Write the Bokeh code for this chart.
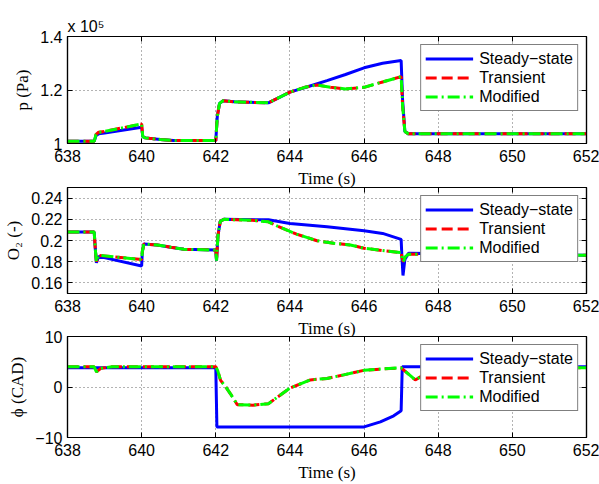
from bokeh.plotting import figure
from bokeh.models import Range1d, LinearAxis, FixedTicker, CustomJSTickFormatter, Title
from bokeh.layouts import column
from bokeh.embed import file_html
from bokeh.resources import INLINE

# ---------------- data ----------------
x_ticks = [638, 640, 642, 644, 646, 648, 650, 652]
series_names = ["Steady\u2212state", "Transient", "Modified"]

# pressure, in units of 1e5 Pa
t_p_ss = [638.0, 638.72, 638.77, 638.84, 639.0, 640.0, 640.03, 640.1, 640.5, 640.86, 642.0, 642.04, 642.1,
          642.2, 642.5, 643.42, 644.0, 644.5, 645.0, 645.5, 646.0, 646.5, 647.0, 647.04, 647.1, 647.2, 652.0]
p_ss = [1.008, 1.008, 1.030, 1.036, 1.039, 1.061, 1.026, 1.021, 1.015, 1.011, 1.011, 1.100, 1.150,
        1.160, 1.156, 1.152, 1.192, 1.213, 1.235, 1.258, 1.283, 1.300, 1.310, 1.160, 1.045, 1.036, 1.036]
t_p_tr = [638.0, 638.72, 638.77, 638.84, 639.0, 640.0, 640.03, 640.1, 640.5, 640.86, 642.0, 642.04, 642.1,
          642.2, 642.5, 643.42, 644.0, 644.4, 644.73, 645.1, 645.5, 646.0, 646.5, 647.0, 647.04, 647.1,
          647.2, 652.0]
p_tr = [1.008, 1.008, 1.034, 1.042, 1.045, 1.073, 1.026, 1.021, 1.015, 1.011, 1.011, 1.100, 1.150,
        1.160, 1.156, 1.152, 1.192, 1.210, 1.219, 1.210, 1.204, 1.210, 1.230, 1.250, 1.140, 1.045,
        1.036, 1.036]
t_p_mod = [638.0, 638.72, 638.77, 638.84, 639.0, 640.0, 640.03, 640.1, 640.5, 640.86, 642.0, 642.04, 642.1,
           642.2, 642.5, 643.42, 644.0, 644.4, 644.73, 645.1, 645.5, 646.0, 646.5, 647.0, 647.04, 647.1,
           647.2, 652.0]
p_mod = [1.008, 1.008, 1.034, 1.042, 1.045, 1.073, 1.026, 1.021, 1.015, 1.011, 1.011, 1.100, 1.150,
         1.160, 1.156, 1.152, 1.192, 1.210, 1.219, 1.210, 1.204, 1.210, 1.230, 1.250, 1.140, 1.045,
         1.036, 1.036]
p_ticks = [1.0, 1.2, 1.4]

# oxygen fraction
t_o_ss = [638.0, 638.72, 638.75, 638.78, 638.84, 640.0, 640.02, 640.06, 640.42, 640.78, 641.14, 642.0,
          642.02, 642.06, 642.12, 642.22, 643.42, 644.0, 645.0, 646.0, 646.5, 647.0, 647.02, 647.05,
          647.1, 647.2, 652.0]
o_ss = [0.208, 0.208, 0.192, 0.179, 0.185, 0.176, 0.190, 0.1967, 0.1958, 0.1937, 0.1917, 0.191,
        0.181, 0.205, 0.218, 0.220, 0.2195, 0.2161, 0.2129, 0.2092, 0.2067, 0.2011, 0.185, 0.167,
        0.182, 0.188, 0.186]
t_o_tr = [638.0, 638.72, 638.75, 638.78, 638.84, 639.0, 640.0, 640.02, 640.06, 640.42, 640.78, 641.14,
          642.0, 642.02, 642.06, 642.12, 642.22, 643.0, 643.42, 643.65, 644.18, 644.73, 645.18, 645.63,
          646.0, 646.5, 646.9, 647.0, 647.03, 647.06, 647.12, 647.2, 652.0]
o_tr = [0.208, 0.208, 0.192, 0.180, 0.186, 0.1855, 0.182, 0.190, 0.1967, 0.1958, 0.1937, 0.1917,
        0.191, 0.181, 0.205, 0.218, 0.220, 0.219, 0.2176, 0.2138, 0.206, 0.1998, 0.1974, 0.1958,
        0.1927, 0.1905, 0.189, 0.1885, 0.183, 0.180, 0.185, 0.187, 0.186]
t_o_mod = [638.0, 638.72, 638.75, 638.78, 638.84, 639.0, 640.0, 640.02, 640.06, 640.42, 640.78, 641.14,
           642.0, 642.02, 642.06, 642.12, 642.22, 643.0, 643.42, 643.65, 644.18, 644.73, 645.18, 645.63,
           646.0, 646.5, 646.9, 647.0, 647.03, 647.06, 647.12, 647.2, 652.0]
o_mod = [0.208, 0.208, 0.192, 0.180, 0.186, 0.1855, 0.182, 0.190, 0.1967, 0.1958, 0.1937, 0.1917,
         0.191, 0.181, 0.205, 0.218, 0.220, 0.219, 0.2176, 0.2138, 0.206, 0.1998, 0.1974, 0.1958,
         0.1927, 0.1905, 0.189, 0.1885, 0.183, 0.180, 0.185, 0.187, 0.186]
o_ticks = [0.16, 0.18, 0.20, 0.22, 0.24]

# combustion phasing (CAD)
t_f_ss = [638.0, 642.0, 642.03, 646.0, 646.44, 646.8, 647.0, 647.03, 652.0]
f_ss = [3.8, 3.8, -7.9, -7.9, -6.9, -5.7, -4.7, 4.0, 4.0]
t_f_tr = [638.0, 638.72, 638.78, 638.9, 639.2, 642.0, 642.05, 642.13, 642.26, 642.4, 642.58, 643.0,
          643.42, 644.0, 644.55, 645.0, 645.45, 646.0, 646.54, 647.0, 647.16, 647.38, 647.7, 648.2, 652.0]
f_tr = [4.0, 4.0, 3.0, 3.7, 4.0, 4.0, 3.3, 1.3, 0.1, -1.4, -3.5, -3.6,
        -3.3, -0.2, 1.4, 1.7, 2.4, 3.3, 3.6, 3.8, 2.8, 1.4, 2.8, 3.8, 3.8]
t_f_mod = [638.0, 638.72, 638.78, 638.9, 639.2, 642.0, 642.05, 642.13, 642.26, 642.4, 642.58, 643.0,
           643.42, 644.0, 644.55, 645.0, 645.45, 646.0, 646.54, 647.0, 647.16, 647.38, 647.7, 648.2, 652.0]
f_mod = [4.0, 4.0, 3.0, 3.7, 4.0, 4.0, 3.3, 1.3, 0.1, -1.4, -3.5, -3.6,
         -3.3, -0.2, 1.4, 1.7, 2.4, 3.3, 3.6, 3.8, 2.8, 1.4, 2.8, 3.8, 3.8]
f_ticks = [-10, 0, 10]

# ---------------- styling ----------------
SANS = "Liberation Sans"
SERIF = "Liberation Serif"
num_fmt = "var v = Math.round(tick*1000)/1000; return v.toString().replace('-', '\\u2212');"


def panel(height, b_top, b_bottom, yr, yticks, ylabel, data, margin):
    p = figure(width=599, height=height, x_range=Range1d(638, 652), y_range=Range1d(*yr),
               output_backend="svg", toolbar_location=None,
               min_border_left=67, min_border_right=13, min_border_top=b_top, min_border_bottom=b_bottom,
               border_fill_color=None, background_fill_color="white",
               outline_line_color="black", outline_line_width=1.2, margin=margin)
    for ax, ticks in ((p.xaxis[0], x_ticks), (p.yaxis[0], yticks)):
        ax.ticker = FixedTicker(ticks=ticks)
        ax.formatter = CustomJSTickFormatter(code=num_fmt)
        ax.major_tick_in = 5
        ax.major_tick_out = 0
        ax.minor_tick_line_color = None
        ax.axis_line_color = "black"
        ax.axis_line_width = 1.2
        ax.major_tick_line_color = "black"
        ax.major_label_text_font = SANS
        ax.major_label_text_font_size = "16px"
        ax.major_label_text_color = "black"
        ax.axis_label_text_font = SERIF
        ax.axis_label_text_font_size = "17px"
        ax.axis_label_text_font_style = "normal"
        ax.axis_label_text_color = "black"
    p.xaxis[0].major_label_standoff = 6
    p.xaxis[0].axis_label_standoff = 4
    p.xaxis[0].axis_label = "Time (s)"
    p.yaxis[0].major_label_standoff = 5
    p.yaxis[0].axis_label_standoff = 5
    p.yaxis[0].axis_label = ylabel
    for loc, ticks in (("right", yticks), ("above", x_ticks)):
        ax = LinearAxis(ticker=FixedTicker(ticks=ticks), formatter=CustomJSTickFormatter(code="return '';"),
                        major_tick_in=5, major_tick_out=0, minor_tick_line_color=None,
                        major_label_text_font_size="0px", major_label_standoff=0,
                        axis_line_color="black", axis_line_width=1.2, major_tick_line_color="black")
        p.add_layout(ax, loc)
    p.xgrid.ticker = FixedTicker(ticks=x_ticks)
    p.ygrid.ticker = FixedTicker(ticks=yticks)
    for g in (p.xgrid[0], p.ygrid[0]):
        g.grid_line_color = "#000000"
        g.grid_line_alpha = 0.6
        g.grid_line_dash = "1 3"
        g.grid_line_width = 1
    (t1, v1), (t2, v2), (t3, v3) = data
    p.line(t1, v1, line_color="#0000ff", line_width=3, legend_label=series_names[0])
    p.line(t2, v2, line_color="#ff0000", line_width=3, line_dash="11 5", legend_label=series_names[1])
    p.line(t3, v3, line_color="#00ff00", line_width=3, line_dash="12 4 2 4", legend_label=series_names[2])
    lg = p.legend[0]
    lg.location = "top_right"
    lg.margin = 8
    lg.padding = 4
    lg.spacing = 0
    lg.label_standoff = 6
    lg.glyph_width = 48
    lg.glyph_height = 19
    lg.label_height = 19
    lg.label_text_font = SANS
    lg.label_text_font_size = "16px"
    lg.label_text_color = "black"
    lg.border_line_color = "black"
    lg.border_line_width = 1
    lg.background_fill_color = "white"
    lg.background_fill_alpha = 1.0
    return p


p1 = panel(190, 36, 47, (1.0, 1.4), p_ticks, "p (Pa)",
           [(t_p_ss, p_ss), (t_p_tr, p_tr), (t_p_mod, p_mod)], (0, 0, 0, 0))
p1.add_layout(Title(text="x 10\u2075", align="left", text_font=SANS, text_font_size="16px",
                    text_font_style="normal", text_color="black", standoff=4), "above")

p2 = panel(160, 7, 46, (0.15, 0.25), o_ticks, "O\u2082 (-)",
           [(t_o_ss, o_ss), (t_o_tr, o_tr), (t_o_mod, o_mod)], (-10, 0, 0, 0))
p3 = panel(154, 6, 39, (-10, 10), f_ticks, "\u03d5 (CAD)",
           [(t_f_ss, f_ss), (t_f_tr, f_tr), (t_f_mod, f_mod)], (-10, 0, 0, 0))

layout = column(p1, p2, p3, spacing=0)
open("out.html", "w").write(file_html(layout, INLINE))
